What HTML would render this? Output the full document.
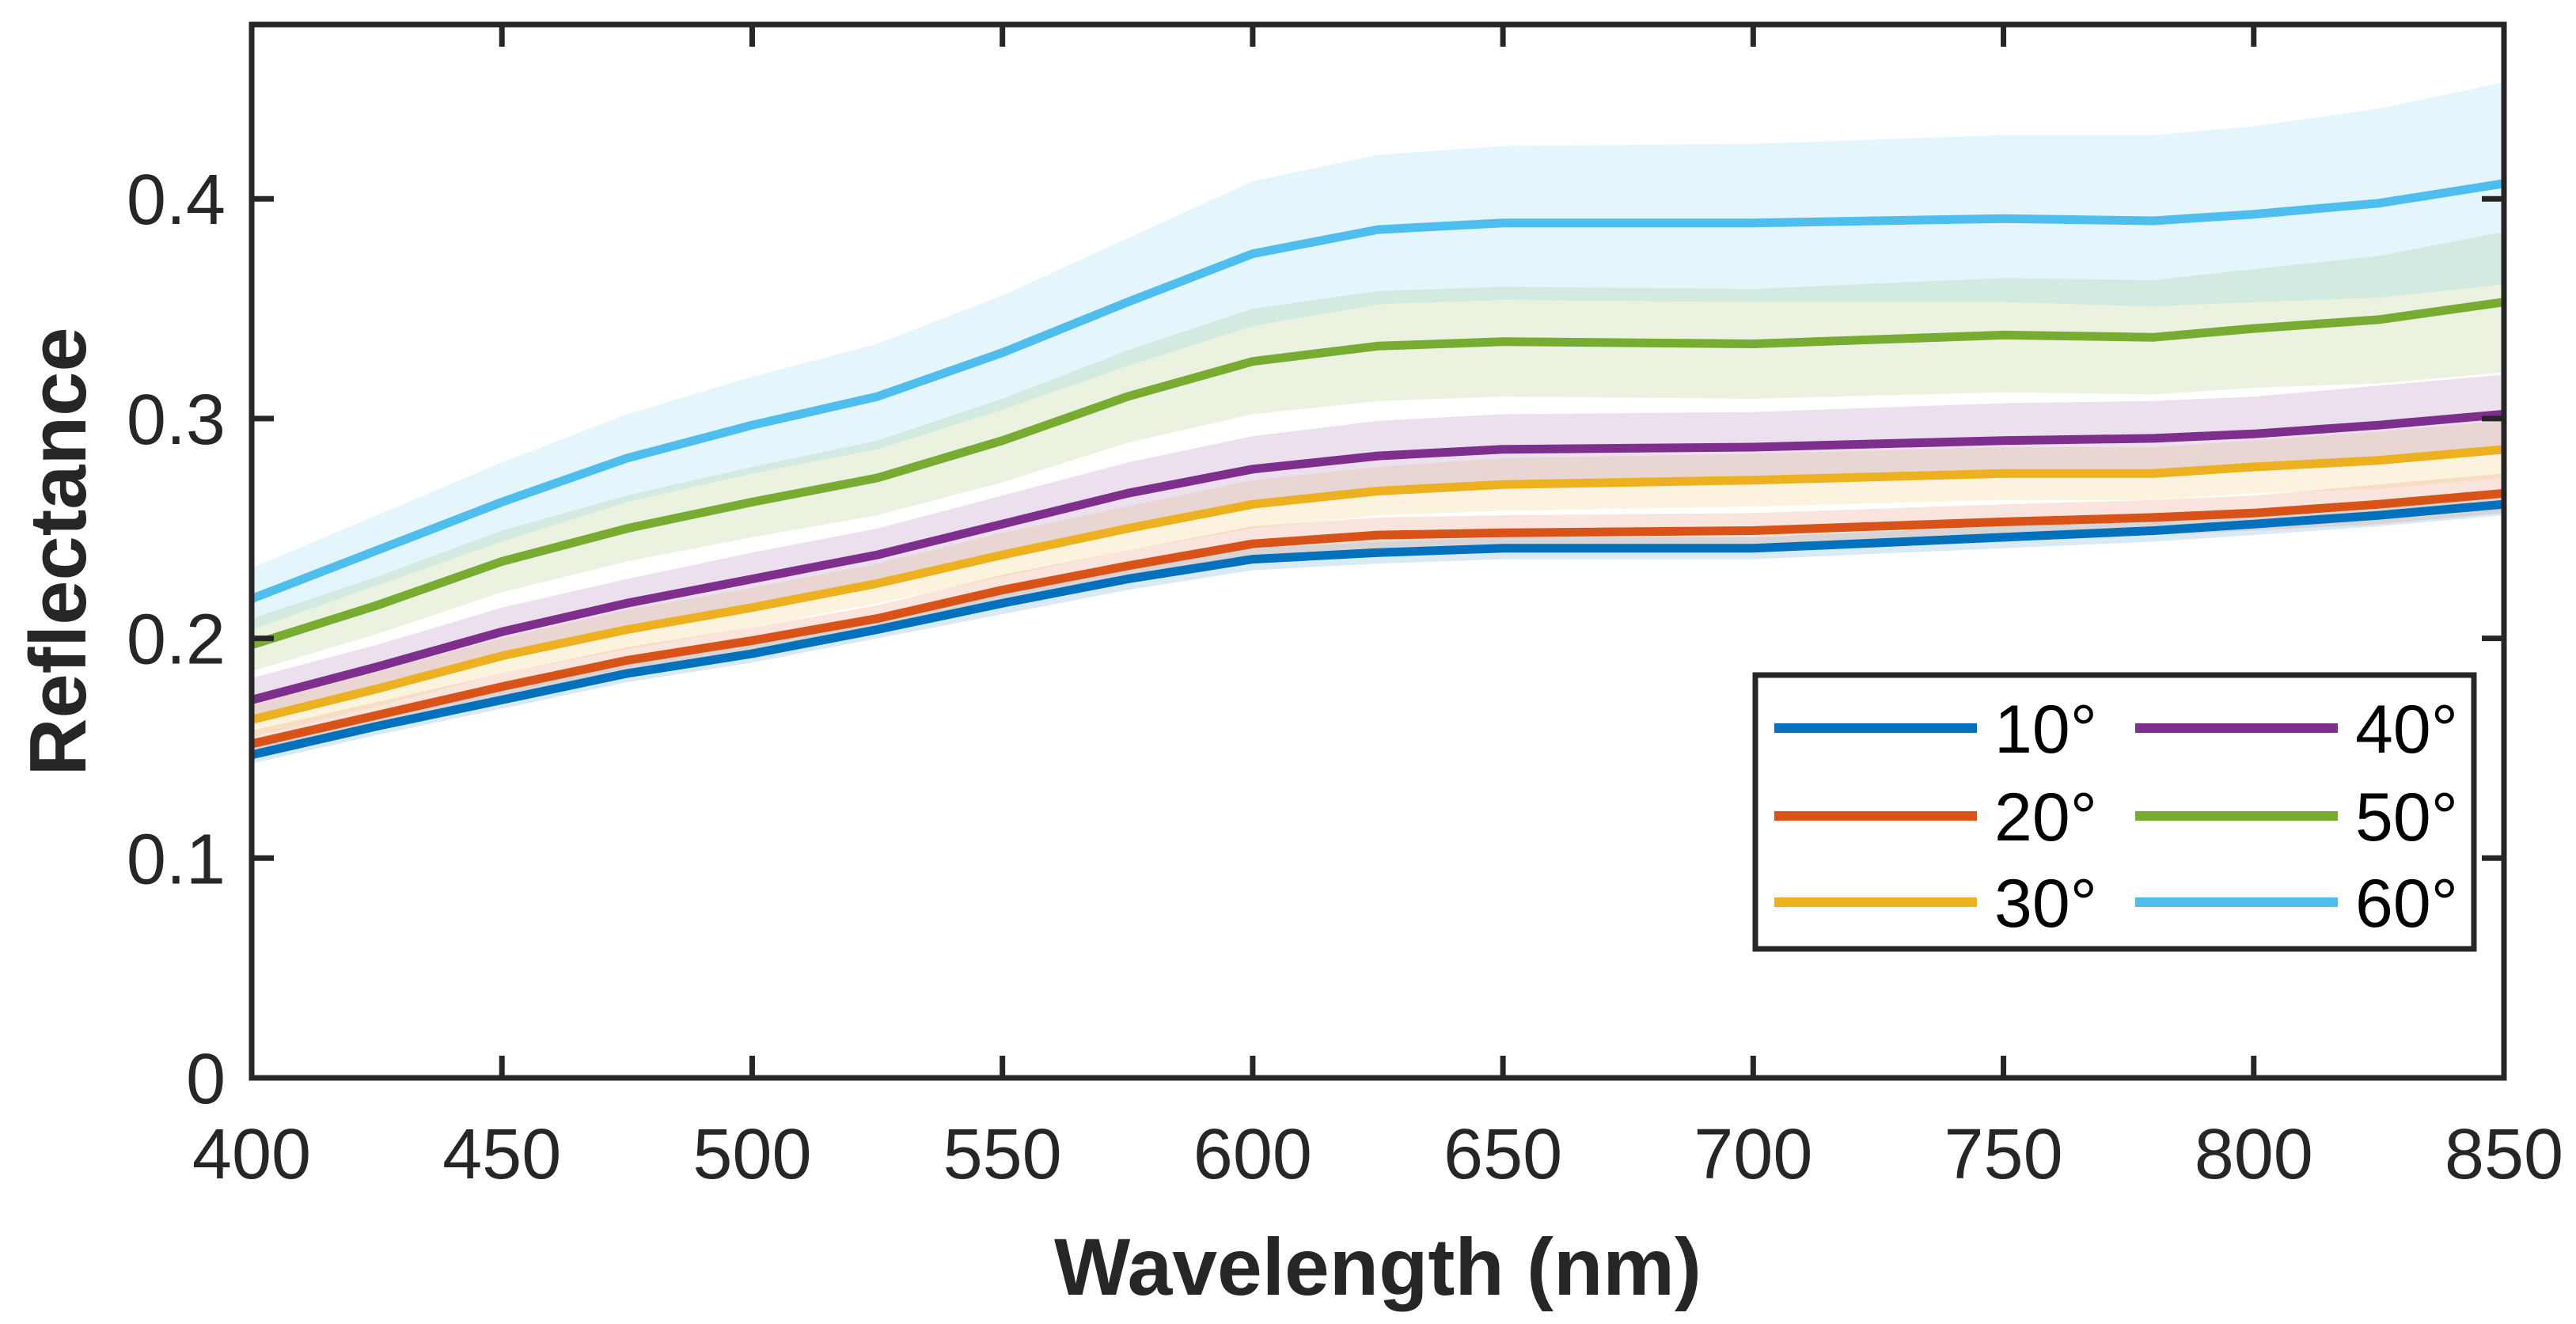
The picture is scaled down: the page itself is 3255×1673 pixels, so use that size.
<!DOCTYPE html>
<html><head><meta charset="utf-8"><style>
html,body{margin:0;padding:0;background:#fff;}
svg{display:block;font-family:"Liberation Sans",Arial,sans-serif;}
</style></head><body>
<svg id="chart" width="3255" height="1673" viewBox="0 0 3255 1673" xmlns="http://www.w3.org/2000/svg">
<g id="bands"></g>
<g id="lines"></g>
<g id="axes"></g>
<text x="1741" y="1636" font-size="102" font-weight="bold" text-anchor="middle" fill="#262626">Wavelength (nm)</text>
<text transform="translate(108,697) rotate(-90)" font-size="101" font-weight="bold" text-anchor="middle" fill="#262626">Reflectance</text>
<g id="legend"></g>
</svg>
<script>
const wavelengths=[400,425,450,475,500,525,550,575,600,625,650,700,750,780,800,825,850];
const s10=[0.147,0.160,0.172,0.184,0.193,0.204,0.216,0.227,0.236,0.239,0.241,0.241,0.246,0.249,0.252,0.256,0.261];
const s20=[0.152,0.165,0.178,0.190,0.199,0.209,0.222,0.233,0.243,0.247,0.248,0.249,0.253,0.255,0.257,0.261,0.266];
const s30=[0.163,0.177,0.192,0.204,0.214,0.225,0.238,0.250,0.261,0.267,0.270,0.272,0.275,0.275,0.278,0.281,0.286];
const s40=[0.172,0.187,0.203,0.216,0.227,0.238,0.252,0.266,0.277,0.283,0.286,0.287,0.290,0.291,0.293,0.297,0.302];
const s50=[0.197,0.215,0.235,0.250,0.262,0.273,0.290,0.310,0.326,0.333,0.335,0.334,0.338,0.337,0.341,0.345,0.353];
const s60=[0.218,0.240,0.262,0.282,0.297,0.310,0.330,0.353,0.375,0.386,0.389,0.389,0.391,0.390,0.393,0.398,0.407];
const d10=[0.004,0.004,0.004,0.004,0.004,0.004,0.005,0.005,0.005,0.005,0.005,0.005,0.005,0.005,0.005,0.005,0.005];
const d20=[0.006,0.006,0.006,0.006,0.006,0.006,0.007,0.007,0.008,0.008,0.008,0.008,0.008,0.008,0.008,0.009,0.009];
const d30=[0.008,0.008,0.008,0.009,0.009,0.009,0.010,0.010,0.011,0.011,0.012,0.012,0.012,0.012,0.012,0.013,0.013];
const d40=[0.010,0.010,0.011,0.011,0.012,0.012,0.013,0.014,0.015,0.016,0.016,0.016,0.017,0.017,0.017,0.018,0.018];
const d50=[0.012,0.013,0.014,0.015,0.016,0.017,0.019,0.021,0.024,0.025,0.025,0.025,0.026,0.026,0.027,0.029,0.032];
const d60=[0.014,0.016,0.018,0.020,0.022,0.024,0.026,0.029,0.033,0.034,0.035,0.036,0.038,0.039,0.040,0.043,0.046];
const seriesLabels=["10°","20°","30°","40°","50°","60°"];
const xTicks=[400,450,500,550,600,650,700,750,800,850];
const yTicks=[0,0.1,0.2,0.3,0.4];
const yTickLabels=["0","0.1","0.2","0.3","0.4"];

const NS="http://www.w3.org/2000/svg";
const L=318,R=3164,T=31,B=1362,XMIN=400,XMAX=850,YMIN=0,YMAX=0.4793;
const colors=["#0072BD","#D95319","#EDB120","#7E2F8E","#77AC30","#4DBEEE"];
const means=[s10,s20,s30,s40,s50,s60], devs=[d10,d20,d30,d40,d50,d60];
function xs(v){return L+(v-XMIN)/(XMAX-XMIN)*(R-L);}
function ys(v){return B-(v-YMIN)/(YMAX-YMIN)*(B-T);}
function mk(tag,attrs,parent){const e=document.createElementNS(NS,tag);for(const k in attrs)e.setAttribute(k,attrs[k]);parent.appendChild(e);return e;}
const bands=document.getElementById('bands'),lines=document.getElementById('lines'),axes=document.getElementById('axes'),legend=document.getElementById('legend');
for(let s=0;s<6;s++){
  const m=means[s],d=devs[s];
  let up=wavelengths.map((w,i)=>xs(w).toFixed(1)+","+ys(m[i]+d[i]).toFixed(1));
  let lo=wavelengths.map((w,i)=>xs(w).toFixed(1)+","+ys(m[i]-d[i]).toFixed(1)).reverse();
  const p=mk('polygon',{points:up.concat(lo).join(' '),fill:colors[s],'fill-opacity':0.15,stroke:'none'},bands);
  
  
}
for(let s=0;s<6;s++){
  const m=means[s];
  const pl=mk('polyline',{points:wavelengths.map((w,i)=>xs(w).toFixed(1)+","+ys(m[i]).toFixed(1)).join(' '),fill:'none',stroke:colors[s],'stroke-width':11,'stroke-linejoin':'round'},lines);
  
  
}
const frame=mk('rect',{x:L,y:T,width:R-L,height:B-T,fill:'none',stroke:'#262626','stroke-width':7},axes);


xTicks.forEach(v=>{
  const x=xs(v);
  mk('line',{x1:x,y1:B,x2:x,y2:B-28,stroke:'#262626','stroke-width':7},axes);
  mk('line',{x1:x,y1:T,x2:x,y2:T+28,stroke:'#262626','stroke-width':7},axes);
  const t=mk('text',{x:x,y:1489,'font-size':90,'text-anchor':'middle',fill:'#262626'},axes);
  t.textContent=v;
  
  
});
yTicks.forEach((v,i)=>{
  const y=ys(v);
  mk('line',{x1:L,y1:y,x2:L+28,y2:y,stroke:'#262626','stroke-width':7},axes);
  mk('line',{x1:R,y1:y,x2:R-28,y2:y,stroke:'#262626','stroke-width':7},axes);
  const t=mk('text',{x:285,y:y+32,'font-size':90,'text-anchor':'end',fill:'#262626'},axes);
  t.textContent=yTickLabels[i];
  
  
});
const lb=mk('rect',{x:2218,y:853,width:908,height:346,fill:'#fff',stroke:'#262626','stroke-width':7},legend);


const rowsY=[920,1031,1140],colX=[2242,2698];
for(let s=0;s<6;s++){
  const c=Math.floor(s/3),r=s%3;
  const g=mk('g',{},legend);
  
  
  mk('line',{x1:colX[c],y1:rowsY[r],x2:colX[c]+256,y2:rowsY[r],stroke:colors[s],'stroke-width':12},g);
  const t=mk('text',{x:colX[c]+278,y:rowsY[r]+31,'font-size':86,fill:'#000'},g);
  t.textContent=seriesLabels[s];
}
</script>
</body></html>
